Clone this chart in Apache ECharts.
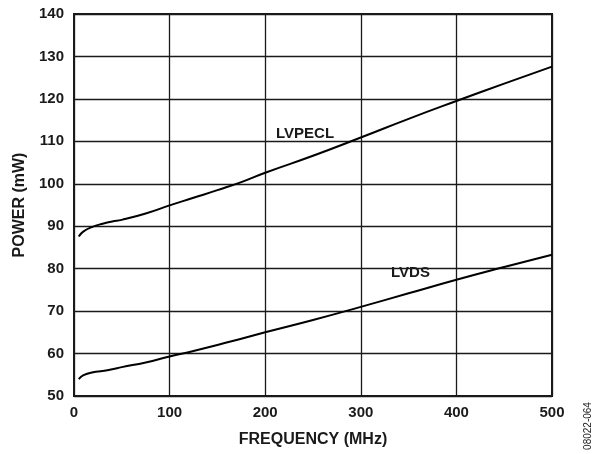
<!DOCTYPE html>
<html><head><meta charset="utf-8">
<script src="https://cdn.jsdelivr.net/npm/echarts@6/dist/echarts.min.js"></script>
<style>html,body{margin:0;padding:0;background:#fff}#c{width:593px;height:454px}</style>
</head><body><div id="c"></div>
<script>
const freqLVPECL = [5, 10, 20, 30, 40, 50, 75, 100, 125, 150, 175, 200, 250, 300, 350, 400, 450, 500];
const powerLVPECL = [87.6, 88.8, 89.9, 90.6, 91.1, 91.5, 93.0, 94.9, 96.7, 98.5, 100.4, 102.6, 106.6, 110.9, 115.3, 119.5, 123.6, 127.6];
const freqLVDS = [5, 10, 20, 30, 40, 50, 75, 100, 125, 150, 175, 200, 250, 300, 350, 400, 450, 500];
const powerLVDS = [54.0, 54.9, 55.6, 55.9, 56.3, 56.8, 57.9, 59.3, 60.6, 62.0, 63.5, 65.0, 67.9, 71.0, 74.2, 77.4, 80.4, 83.3];
const xTicks = [0, 100, 200, 300, 400, 500];
const yTicks = [50, 60, 70, 80, 90, 100, 110, 120, 130, 140];

const font = 'Liberation Sans, Arial, sans-serif';
const chart = echarts.init(document.getElementById('c'));
chart.setOption({
  animation: false,
  grid: {left: 74, top: 14, right: 41, bottom: 58, show: true, borderColor: '#1a1a1a', borderWidth: 2,
         containLabel: false, outerBoundsMode: 'none'},
  xAxis: {
    type: 'value', min: xTicks[0], max: xTicks[xTicks.length-1], interval: 100,
    name: 'FREQUENCY (MHz)', nameLocation: 'middle', nameGap: 36,
    nameTextStyle: {fontFamily: font, fontWeight: 'bold', fontSize: 16, color: '#1a1a1a'},
    axisLine: {show: false}, axisTick: {show: false},
    axisLabel: {fontFamily: font, fontWeight: 'bold', fontSize: 15, color: '#1a1a1a', margin: 9},
    splitLine: {lineStyle: {color: '#1a1a1a', width: 1.3}}
  },
  yAxis: {
    type: 'value', min: yTicks[0], max: yTicks[yTicks.length-1], interval: 10,
    name: 'POWER (mW)', nameLocation: 'middle', nameGap: 45, nameRotate: 90,
    nameTextStyle: {fontFamily: font, fontWeight: 'bold', fontSize: 16, color: '#1a1a1a'},
    axisLine: {show: false}, axisTick: {show: false},
    axisLabel: {fontFamily: font, fontWeight: 'bold', fontSize: 15, color: '#1a1a1a', margin: 10},
    splitLine: {lineStyle: {color: '#1a1a1a', width: 1.3}}
  },
  series: [
    {type: 'line', data: freqLVPECL.map((f,i)=>[f, powerLVPECL[i]]), smooth: true, showSymbol: false,
     lineStyle: {color: '#000', width: 2}},
    {type: 'line', data: freqLVDS.map((f,i)=>[f, powerLVDS[i]]), smooth: true, showSymbol: false,
     lineStyle: {color: '#000', width: 2}}
  ],
  graphic: [
    {type: 'text', x: 276, y: 134, style: {text: 'LVPECL', font: 'bold 15px ' + font, fill: '#1a1a1a', verticalAlign: 'middle'}},
    {type: 'text', x: 391, y: 273, style: {text: 'LVDS', font: 'bold 15px ' + font, fill: '#1a1a1a', verticalAlign: 'middle'}},
    {type: 'text', x: 588, y: 426, rotation: Math.PI/2, style: {text: '08022-064', font: '10px ' + font, fill: '#1a1a1a', align: 'center', verticalAlign: 'middle'}}
  ]
});
</script></body></html>
